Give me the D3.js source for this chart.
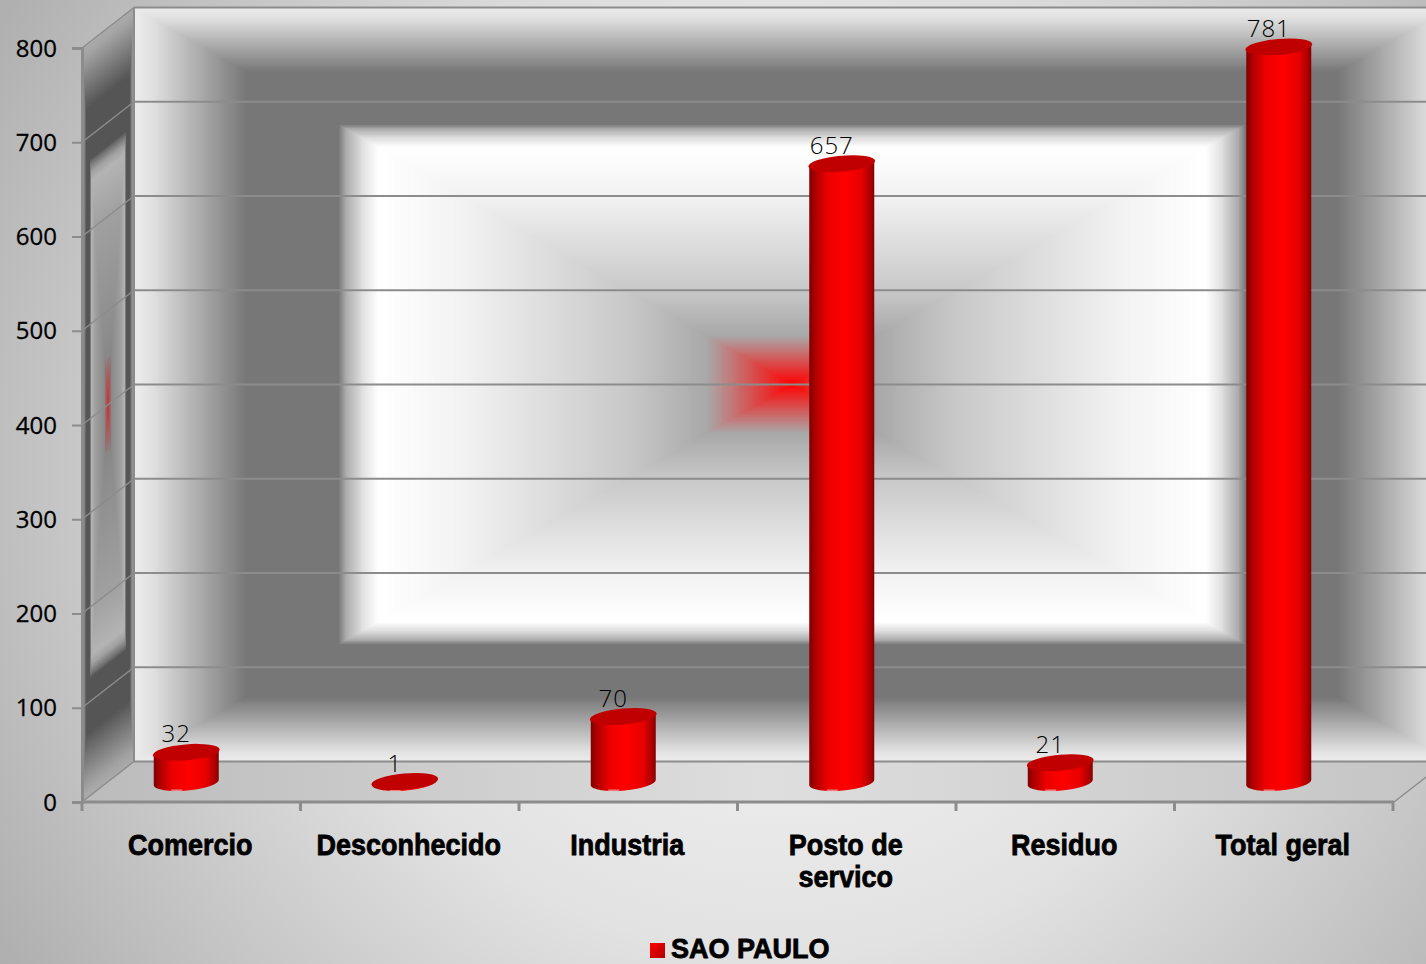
<!DOCTYPE html>
<html><head><meta charset="utf-8">
<style>html,body{margin:0;padding:0;background:#ccc;overflow:hidden}svg{display:block}</style>
<script src="https://cdn.jsdelivr.net/npm/d3@7"></script></head>
<body><svg id="c" width="1426" height="964"></svg>
<script>
const categories = [["Comercio"],["Desconhecido"],["Industria"],["Posto de","servico"],["Residuo"],["Total geral"]];
const values = [32,1,70,657,21,781];
const yTickValues = [0,100,200,300,400,500,600,700,800];
const seriesName = "SAO PAULO";
const wallStops = [0,.12,.13,.25,.5,.63,.655,.68,.69,.83,.975,1];
const wallColors = ["#ff0000","#b09c9c","#a8a8a8","#c8c8c8","#f2f2f2","#ffffff","#dddddd","#a8a8a8","#777777","#777777","#e2e2e2","#ececec"];
const sideColors = ["#c83030","#8e7c7c","#888888","#909090","#a0a0a0","#b4b4b4","#a0a0a0","#707070","#555555","#555555","#a4a4a4","#aaaaaa"];

const svg = d3.select("#c"), defs = svg.append("defs");
const W=1426,H=964;
// scales
const yFront = d3.scaleLinear([0,800],[802,48]);
const yBack  = d3.scaleLinear([0,800],[761.5,7.5]);
const yBar   = d3.scaleLinear([0,800],[782.5,29]);
const xBand  = d3.scaleBand(d3.range(categories.length),[82,1393]);
const wallL=134, wallR=1450, frontL=82;

// background
const bg = defs.append("radialGradient").attr("id","bg").attr("gradientUnits","userSpaceOnUse")
  .attr("cx",780).attr("cy",480).attr("r",950);
[[0,"#fbfbfb"],[.5,"#e2e2e2"],[.95,"#b0b0b0"],[1,"#acacac"]].forEach(s=>bg.append("stop").attr("offset",s[0]).attr("stop-color",s[1]));
svg.append("rect").attr("width",W).attr("height",H).attr("fill","url(#bg)");

// floor
const fl = defs.append("linearGradient").attr("id","fl").attr("x1",0).attr("y1",0).attr("x2",1).attr("y2",0);
[[0,"#bbbbbb"],[.5,"#dedede"],[1,"#c4c4c4"]].forEach(s=>fl.append("stop").attr("offset",s[0]).attr("stop-color",s[1]));
svg.append("polygon").attr("points",[[wallL,yBack(0)],[wallR,yBack(0)],[1395,yFront(0)],[frontL,yFront(0)]].join(" ")).attr("fill","url(#fl)");

// rectangular-path gradient painted as nested quads
function pathGradient(corners, colors, n){
  const cx=d3.mean(corners,c=>c[0]), cy=d3.mean(corners,c=>c[1]);
  const col=d3.scaleLinear(wallStops,colors).clamp(true);
  const g=svg.append("g").attr("shape-rendering","crispEdges");
  g.selectAll("polygon").data(d3.range(n,0,-1).map(i=>i/n)).join("polygon")
   .attr("points",t=>corners.map(c=>[cx+(c[0]-cx)*t,cy+(c[1]-cy)*t]).join(" "))
   .attr("fill",t=>col(t));
}
pathGradient([[wallL,yBack(800)],[wallR,yBack(800)],[wallR,yBack(0)],[wallL,yBack(0)]],wallColors,700);
pathGradient([[frontL,yFront(800)],[wallL,yBack(800)],[wallL,yBack(0)],[frontL,yFront(0)]],sideColors,300);

// gridlines + frame
const line="#8c8c8c";
svg.append("g").selectAll("line").data(yTickValues.slice(1)).join("line")
  .attr("x1",wallL).attr("x2",wallR).attr("y1",yBack).attr("y2",yBack).attr("stroke",line).attr("stroke-width",2);
svg.append("g").selectAll("line").data(yTickValues).join("line")
  .attr("x1",frontL).attr("x2",wallL).attr("y1",yFront).attr("y2",yBack).attr("stroke",line).attr("stroke-width",1.5);
svg.append("line").attr("x1",wallL).attr("x2",wallL).attr("y1",yBack(800)).attr("y2",yBack(0)).attr("stroke",line).attr("stroke-width",2);
svg.append("line").attr("x1",wallL).attr("x2",wallR).attr("y1",yBack(0)).attr("y2",yBack(0)).attr("stroke",line).attr("stroke-width",2);
svg.append("line").attr("x1",1394).attr("x2",1430).attr("y1",yFront(0)).attr("y2",774).attr("stroke",line).attr("stroke-width",1.5);

// axes
const yAxis=d3.axisLeft(yFront).tickValues(yTickValues).tickSize(10).tickPadding(4);
const ay=svg.append("g").attr("transform",`translate(${frontL},0)`).call(yAxis);
ay.select(".domain").attr("stroke",line).attr("stroke-width",3);
ay.selectAll("line").attr("stroke",line).attr("stroke-width",2);
ay.selectAll("text").attr("font-family","Open Sans").attr("font-size",24).attr("fill","#000").attr("stroke","#000").attr("stroke-width",.3).attr("dy","0.34em").attr("x",-25);
const xTicks=d3.range(categories.length+1).map(i=>82+xBand.step()*i);
svg.append("line").attr("x1",frontL).attr("x2",1394).attr("y1",yFront(0)).attr("y2",yFront(0)).attr("stroke",line).attr("stroke-width",3);
svg.append("g").selectAll("line").data(xTicks).join("line").attr("x1",d=>d).attr("x2",d=>d).attr("y1",802).attr("y2",811).attr("stroke",line).attr("stroke-width",3);

// cylinder bars
const barG=defs.append("linearGradient").attr("id","bar").attr("x1",0).attr("x2",1).attr("y1",0).attr("y2",0);
[[0,"#800000"],[.1,"#b00000"],[.3,"#ee0000"],[.55,"#ff0000"],[.8,"#e80000"],[.95,"#a80000"],[1,"#800000"]].forEach(s=>barG.append("stop").attr("offset",s[0]).attr("stop-color",s[1]));
const bw=65, rx=bw/2, ry=8, tilt=-5;
const barX=i=>xBand(i)+xBand.bandwidth()/2-5;
const bars=svg.append("g").selectAll("g").data(values).join("g").attr("transform",(d,i)=>`translate(${barX(i)},0)`);
bars.append("path").attr("fill","url(#bar)").attr("d",d=>{
  const t=yBar(d), b=yBar(0);
  return `M${-rx},${t+3}L${rx},${t-3}L${rx},${b-3}A${rx},${ry} ${tilt} 0 1 ${-rx},${b+3}Z`;
});
bars.append("rect").attr("x",-15).attr("width",11).attr("y",yBar(0)+7).attr("height",1.6).attr("fill","#f08080");
bars.append("ellipse").attr("rx",rx+1).attr("ry",ry).attr("cy",d=>yBar(d)).attr("fill","#c00000")
  .attr("transform",d=>`rotate(${tilt} 0 ${yBar(d)})`);
bars.append("text").text(d=>d).attr("x",-10).attr("y",d=>yBar(d)-10).attr("text-anchor","middle")
  .attr("font-family","Open Sans").attr("font-weight",300).attr("font-size",24).attr("letter-spacing",1).attr("fill","#000");

// category labels
const hx=.9;
svg.append("g").selectAll("text").data(categories).join("text")
  .attr("text-anchor","middle").attr("font-family","Liberation Sans").attr("font-weight","bold").attr("font-size",30)
  .attr("fill","#000").attr("stroke","#000").attr("stroke-width",.8)
  .attr("transform",(d,i)=>`translate(${xBand(i)+xBand.bandwidth()/2-1},0) scale(${hx},1)`)
  .selectAll("tspan").data(d=>d).join("tspan").attr("x",0).attr("y",(d,i)=>855+i*32).text(d=>d);

// legend
const lg=defs.append("linearGradient").attr("id","lg").attr("x1",0).attr("x2",1).attr("y1",0).attr("y2",1);
[[0,"#ff0000"],[1,"#b00000"]].forEach(s=>lg.append("stop").attr("offset",s[0]).attr("stop-color",s[1]));
svg.append("rect").attr("x",650).attr("y",943).attr("width",15).attr("height",15).attr("fill","url(#lg)");
svg.append("text").attr("x",671).attr("y",958).text(seriesName)
  .attr("font-family","Liberation Sans").attr("font-weight","bold").attr("font-size",27).attr("fill","#000").attr("stroke","#000").attr("stroke-width",.8);
</script></body></html>
